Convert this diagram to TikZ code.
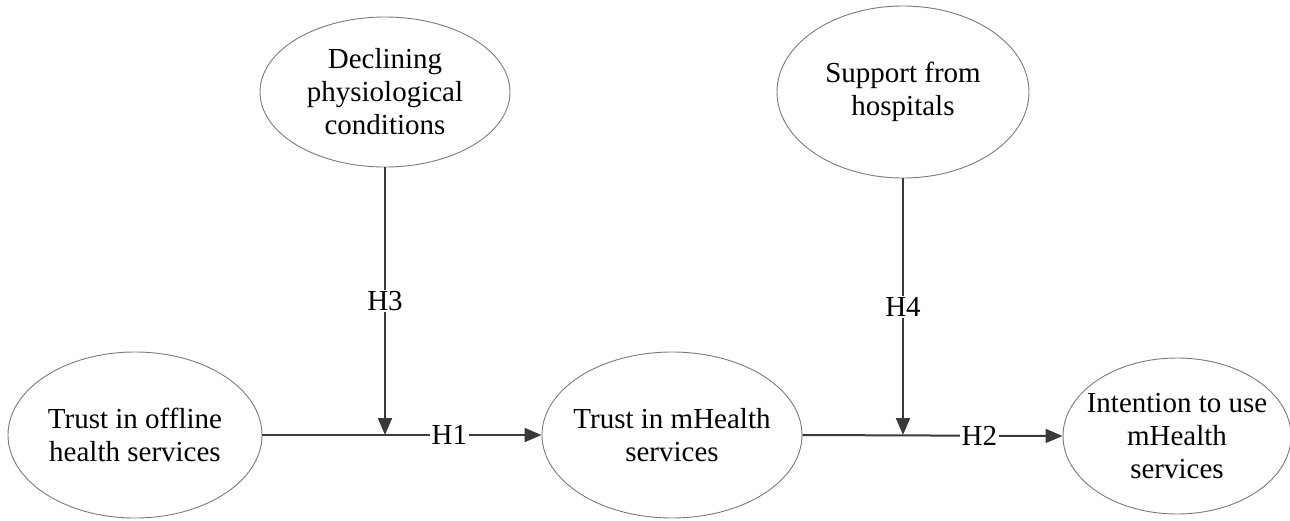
\documentclass[tikz,border=0pt]{standalone}
\usepackage{fontspec}
\setmainfont{Liberation Serif}
\usetikzlibrary{shapes.geometric,arrows.meta}
\definecolor{linegray}{HTML}{3A3A3A}
\definecolor{edgegray}{HTML}{7A7A7A}
\tikzset{
  construct/.style={draw=edgegray, line width=0.9pt, ellipse, inner sep=0pt},
  ctext/.style={align=center, inner sep=0pt, font=\fontsize{29}{33}\selectfont},
  path/.style={draw=linegray, line width=2pt},
  arr/.style={path, -{Triangle[length=17pt,width=14pt]}},
  hyp/.style={fill=white, inner sep=1.5pt, font=\fontsize{29}{33}\selectfont}
}
\begin{document}
\begin{tikzpicture}[x=1pt,y=-1pt]
\useasboundingbox (0,0) rectangle (1290,520);
\node[construct, minimum width=254pt, minimum height=166pt] (off) at (135,435) {};
\node[ctext] (offt) at (off) {Trust in offline\\health services};
\node[construct, minimum width=260pt, minimum height=166pt] (mh) at (672,435) {};
\node[ctext] (mht) at (mh) {Trust in mHealth\\services};
\node[construct, minimum width=228pt, minimum height=156pt] (int) at (1177,436) {};
\node[ctext] (intt) at (int) {Intention to use\\mHealth\\services};
\node[construct, minimum width=250pt, minimum height=150pt] (dec) at (385,92) {};
\node[ctext] (dect) at (dec) {Declining\\physiological\\conditions};
\node[construct, minimum width=252pt, minimum height=172pt] (sup) at (903,92) {};
\node[ctext] (supt) at (sup) {Support from\\hospitals};
\coordinate (j1) at (dec.south |- off.east);
\coordinate (j2) at (sup.south |- mh.east);
\draw[arr] (off.east) -- node[hyp, pos=0.67] {H1} (mh.west);
\draw[arr] (mh.east) -- node[hyp, pos=0.68] {H2} (int.west);
\draw[arr] (dec.south) -- node[hyp, pos=0.5] {H3} (j1);
\draw[arr] (sup.south) -- node[hyp, pos=0.5] {H4} (j2);
\end{tikzpicture}
\end{document}
